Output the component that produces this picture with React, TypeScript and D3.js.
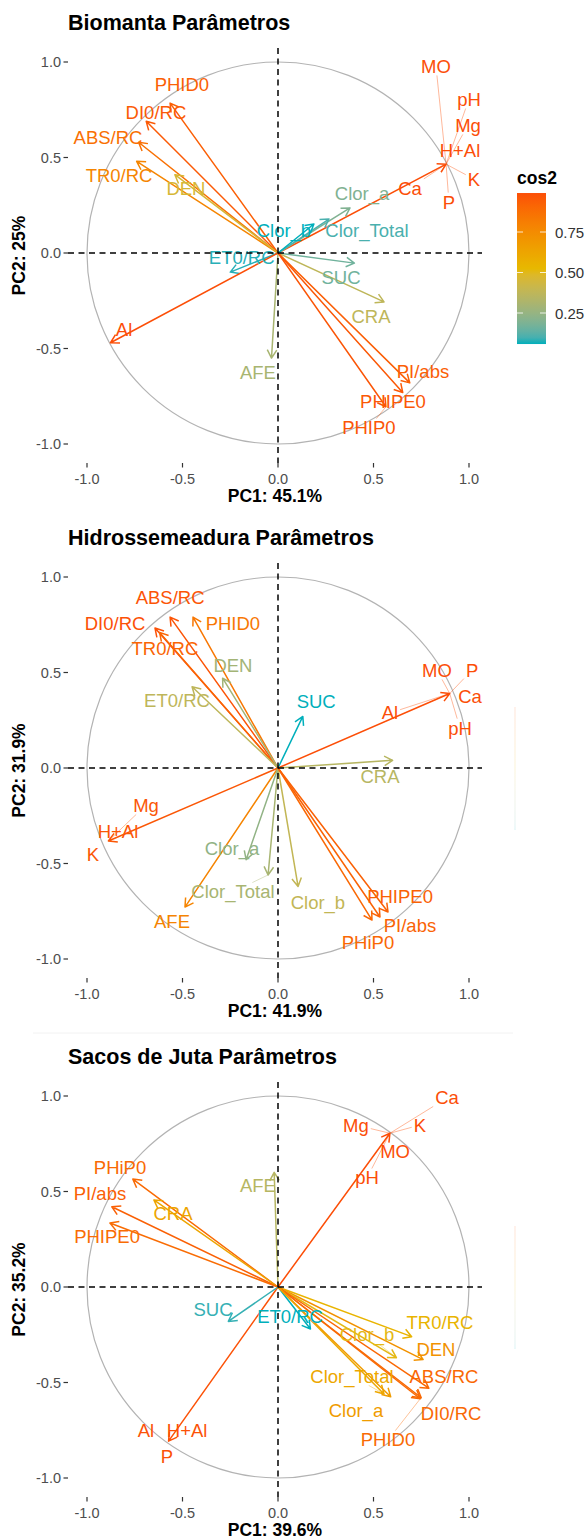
import React from "react";
import * as d3 from "d3";

// ---------------- data ----------------
const bioVars = ["PHID0","DI0/RC","ABS/RC","TR0/RC","DEN","MO","pH","Mg","H+Al","K","P","Ca","Clor_a","Clor_Total","Clor_b","ET0/RC","SUC","CRA","AFE","Al","PI/abs","PHIPE0","PHIP0"];
const bioPC1 = [-0.565,-0.69,-0.73,-0.74,-0.54,0.88,0.88,0.88,0.88,0.88,0.88,0.88,0.377,0.267,0.188,-0.25,0.40,0.555,-0.034,-0.877,0.69,0.653,0.565];
const bioPC2 = [0.785,0.69,0.58,0.48,0.41,0.465,0.465,0.465,0.465,0.465,0.465,0.465,0.236,0.178,0.152,-0.10,-0.053,-0.256,-0.55,-0.47,-0.68,-0.73,-0.805];
const bioLabelX = [-0.503,-0.639,-0.890,-0.832,-0.482,0.827,1.0,0.995,0.953,1.026,0.895,0.691,0.44,0.466,0.031,-0.19,0.33,0.487,-0.105,-0.806,0.759,0.602,0.476];
const bioLabelY = [0.880,0.738,0.607,0.408,0.340,0.979,0.806,0.670,0.539,0.387,0.267,0.340,0.314,0.12,0.12,-0.026,-0.13,-0.33,-0.628,-0.403,-0.623,-0.78,-0.916];

const hidVars = ["ABS/RC","PHID0","DI0/RC","TR0/RC","DEN","ET0/RC","Mg","H+Al","K","SUC","MO","P","Ca","pH","Al","CRA","AFE","Clor_a","Clor_Total","Clor_b","PHiP0","PI/abs","PHIPE0"];
const hidPC1 = [-0.565,-0.445,-0.644,-0.62,-0.29,-0.45,-0.888,-0.888,-0.888,0.13,0.899,0.899,0.899,0.899,0.899,0.60,-0.487,-0.167,-0.052,0.105,0.492,0.534,0.576];
const hidPC2 = [0.79,0.79,0.733,0.71,0.47,0.425,-0.382,-0.382,-0.382,0.27,0.39,0.39,0.39,0.39,0.39,0.04,-0.728,-0.48,-0.56,-0.62,-0.796,-0.78,-0.754];
const hidLabelX = [-0.565,-0.236,-0.853,-0.592,-0.236,-0.529,-0.691,-0.838,-0.969,0.2,0.832,1.016,1.005,0.953,0.586,0.534,-0.555,-0.241,-0.236,0.209,0.471,0.691,0.639];
const hidLabelY = [0.895,0.759,0.759,0.628,0.539,0.356,-0.194,-0.335,-0.455,0.346,0.513,0.513,0.372,0.209,0.288,-0.047,-0.806,-0.419,-0.649,-0.702,-0.911,-0.827,-0.675];

const sacVars = ["PHiP0","PI/abs","CRA","PHIPE0","AFE","Ca","Mg","K","MO","pH","Al","H+Al","P","SUC","ET0/RC","TR0/RC","DEN","Clor_b","ABS/RC","DI0/RC","PHID0","Clor_Total","Clor_a"];
const sacPC1 = [-0.76,-0.87,-0.65,-0.88,-0.02,0.586,0.586,0.586,0.586,0.586,-0.573,-0.573,-0.573,-0.26,0.17,0.70,0.76,0.62,0.79,0.75,0.745,0.555,0.59];
const sacPC2 = [0.565,0.42,0.456,0.335,0.6,0.805,0.805,0.805,0.805,0.805,-0.807,-0.807,-0.807,-0.18,-0.22,-0.26,-0.38,-0.37,-0.53,-0.58,-0.585,-0.56,-0.575];
const sacLabelX = [-0.827,-0.932,-0.55,-0.895,-0.105,0.885,0.408,0.743,0.613,0.466,-0.691,-0.476,-0.581,-0.34,0.063,0.848,0.827,0.466,0.869,0.906,0.576,0.387,0.408];
const sacLabelY = [0.628,0.492,0.387,0.262,0.534,0.99,0.848,0.848,0.707,0.571,-0.749,-0.749,-0.89,-0.12,-0.157,-0.188,-0.325,-0.251,-0.471,-0.66,-0.801,-0.466,-0.644];

const panelTitles = ["Biomanta Parâmetros", "Hidrossemeadura Parâmetros", "Sacos de Juta Parâmetros"];
const xTitles = ["PC1: 45.1%", "PC1: 41.9%", "PC1: 39.6%"];
const yTitles = ["PC2: 25%", "PC2: 31.9%", "PC2: 35.2%"];
const axisTicks = [-1, -0.5, 0, 0.5, 1];
const legendTicks = [0.25, 0.5, 0.75];
const legendTitle = "cos2";
const gradientColors = ["#00AFBB", "#E7B800", "#FC4E07"];

// ---------------- layout ----------------
const W = 587, H = 1540;
const FONT = "'Liberation Sans', Arial, Helvetica, sans-serif";
const CX = 278, UNIT = 191;
const P_LEFT = 68, P_RIGHT = 482, P_TOP = 205, P_BOTTOM = 210;
const panelCY = [253, 768, 1287];
const LABEL_SIZE = 18.5;

let _ctx: CanvasRenderingContext2D | null = null;
function textWidth(t: string, size: number) {
  if (!_ctx) {
    const c = document.createElement("canvas");
    _ctx = c.getContext("2d");
  }
  if (!_ctx) return t.length * size * 0.55;
  _ctx.font = `${size}px ${FONT}`;
  return _ctx.measureText(t).width;
}

type PanelData = {
  vars: string[]; pc1: number[]; pc2: number[]; lx: number[]; ly: number[];
};
const panelData: PanelData[] = [
  { vars: bioVars, pc1: bioPC1, pc2: bioPC2, lx: bioLabelX, ly: bioLabelY },
  { vars: hidVars, pc1: hidPC1, pc2: hidPC2, lx: hidLabelX, ly: hidLabelY },
  { vars: sacVars, pc1: sacPC1, pc2: sacPC2, lx: sacLabelX, ly: sacLabelY },
];

function colorScaleFor(d: PanelData) {
  const cos2 = d.pc1.map((v, i) => v * v + d.pc2[i] * d.pc2[i]);
  const mn = d3.min(cos2) as number, mx = d3.max(cos2) as number;
  const sc = d3.scaleLinear<string>()
    .domain([mn, (mn + mx) / 2, mx])
    .range(gradientColors)
    .interpolate(d3.interpolateLab);
  return { sc, cos2, mn, mx };
}

function Panel({ idx }: { idx: number }) {
  const d = panelData[idx];
  const cy = panelCY[idx];
  const x = d3.scaleLinear().domain([-1, 1]).range([CX - UNIT, CX + UNIT]);
  const y = d3.scaleLinear().domain([-1, 1]).range([cy + UNIT, cy - UNIT]);
  const { sc, cos2, mn, mx } = colorScaleFor(d);
  const top = cy - P_TOP, bottom = cy + P_BOTTOM;
  const ox = x(0), oy = y(0);

  // variables sharing exactly the same coordinates are drawn as one arrow
  const seen = new Set<string>();
  const arrows: any[] = [];
  d.vars.forEach((name, i) => {
    const key = `${d.pc1[i]},${d.pc2[i]}`;
    if (seen.has(key)) return;
    seen.add(key);
    const tx = x(d.pc1[i]), ty = y(d.pc2[i]);
    const col = sc(cos2[i]);
    const ang = Math.atan2(ty - oy, tx - ox);
    const L = 9.5;
    const a1 = ang + Math.PI - Math.PI / 6, a2 = ang + Math.PI + Math.PI / 6;
    const p = `M${ox},${oy}L${tx},${ty}M${tx + L * Math.cos(a1)},${ty + L * Math.sin(a1)}L${tx},${ty}L${tx + L * Math.cos(a2)},${ty + L * Math.sin(a2)}`;
    arrows.push(<path key={name + i} d={p} fill="none" stroke={col} strokeWidth={1.5} strokeLinejoin="round" />);
  });

  const segs: any[] = [];
  const labels = d.vars.map((name, i) => {
    const lxp = x(d.lx[i]), lyp = y(d.ly[i]);
    const tx = x(d.pc1[i]), ty = y(d.pc2[i]);
    const col = sc(cos2[i]);
    const hw = textWidth(name, LABEL_SIZE) / 2 + 2, hh = LABEL_SIZE * 0.4 + 2;
    const dx = tx - lxp, dy = ty - lyp;
    const t = Math.min(dx === 0 ? Infinity : hw / Math.abs(dx), dy === 0 ? Infinity : hh / Math.abs(dy));
    if (t < 1) {
      const len = Math.hypot(dx, dy) * (1 - t);
      if (len > 15) {
        segs.push(
          <line key={"s" + i} x1={lxp + dx * t} y1={lyp + dy * t} x2={tx} y2={ty}
            stroke={col} strokeOpacity={0.45} strokeWidth={0.9} />
        );
      }
    }
    return (
      <text key={"l" + i} x={lxp} y={lyp} fill={col} fontSize={LABEL_SIZE}
        textAnchor="middle" dominantBaseline="central" fontFamily={FONT}>{name}</text>
    );
  });

  const gradId = `grad${idx}`;
  const nStops = 24;
  const stops = d3.range(nStops + 1).map((k) => {
    const v = mn + (mx - mn) * (k / nStops);
    return <stop key={k} offset={`${(k / nStops) * 100}%`} stopColor={sc(v)} />;
  });
  const yl = d3.scaleLinear().domain([0.25, 0.75]).range([313 + (cy - 253), 232 + (cy - 253)]);

  return (
    <g>
      <defs>
        <linearGradient id={gradId} x1="0" y1="1" x2="0" y2="0">{stops}</linearGradient>
      </defs>
      <text x={P_LEFT} y={cy - 223} fontSize={21.5} fontWeight="bold" fontFamily={FONT} fill="#000">{panelTitles[idx]}</text>
      <circle cx={ox} cy={oy} r={x(1) - x(0)} fill="none" stroke="#b3b3b3" strokeWidth={1.2} />
      {arrows}
      {segs}
      {labels}
      <line x1={P_LEFT} x2={P_RIGHT} y1={oy} y2={oy} stroke="#000" strokeWidth={1.5} strokeDasharray="6,4.5" />
      <line x1={ox} x2={ox} y1={top} y2={bottom} stroke="#000" strokeWidth={1.5} strokeDasharray="6,4.5" />
      {axisTicks.map((v) => (
        <g key={"yt" + v}>
          <line x1={P_LEFT - 4.5} x2={P_LEFT} y1={y(v)} y2={y(v)} stroke="#333" strokeWidth={1.2} />
          <text x={P_LEFT - 7} y={y(v)} fontSize={14.5} fill="#4d4d4d" textAnchor="end" dominantBaseline="central" fontFamily={FONT}>{v.toFixed(1)}</text>
        </g>
      ))}
      {axisTicks.map((v) => (
        <g key={"xt" + v}>
          <line x1={x(v)} x2={x(v)} y1={bottom} y2={bottom + 4.5} stroke="#333" strokeWidth={1.2} />
          <text x={x(v)} y={bottom + 16} fontSize={14.5} fill="#4d4d4d" textAnchor="middle" dominantBaseline="central" fontFamily={FONT}>{v.toFixed(1)}</text>
        </g>
      ))}
      <text x={(P_LEFT + P_RIGHT) / 2} y={cy + 243} fontSize={17.5} fontWeight="bold" textAnchor="middle" dominantBaseline="central" fontFamily={FONT}>{xTitles[idx]}</text>
      <text transform={`translate(19,${(top + bottom) / 2}) rotate(-90)`} fontSize={17.5} fontWeight="bold" textAnchor="middle" dominantBaseline="central" fontFamily={FONT}>{yTitles[idx]}</text>
      {idx === 0 ? (
        <g>
          <text x={517} y={184} fontSize={17.5} fontWeight="bold" fontFamily={FONT}>{legendTitle}</text>
          <rect x={517} y={yl(mx)} width={29} height={yl(mn) - yl(mx)} fill={`url(#${gradId})`} />
          {legendTicks.map((v) => (
            <g key={"lt" + v}>
              <line x1={517} x2={523} y1={yl(v)} y2={yl(v)} stroke="#fff" strokeWidth={1} strokeOpacity={0.8} />
              <line x1={540} x2={546} y1={yl(v)} y2={yl(v)} stroke="#fff" strokeWidth={1} strokeOpacity={0.8} />
              <text x={555} y={yl(v)} fontSize={15} fill="#333" dominantBaseline="central" fontFamily={FONT}>{v.toFixed(2)}</text>
            </g>
          ))}
        </g>
      ) : (
        <rect x={514} y={cy - 61} width={2} height={123} fill={`url(#${gradId})`} opacity={0.08} />
      )}
    </g>
  );
}

export default function App() {
  return (
    <svg width={W} height={H} viewBox={`0 0 ${W} ${H}`}
      style={{ position: "absolute", left: 0, top: 0, display: "block", background: "#fff" }}
      xmlns="http://www.w3.org/2000/svg">
      <rect x={0} y={0} width={W} height={H} fill="#fff" />
      <line x1={33} x2={513} y1={1033} y2={1033} stroke="#f2f2f2" strokeWidth={1} />
      <Panel idx={0} />
      <Panel idx={1} />
      <Panel idx={2} />
    </svg>
  );
}
